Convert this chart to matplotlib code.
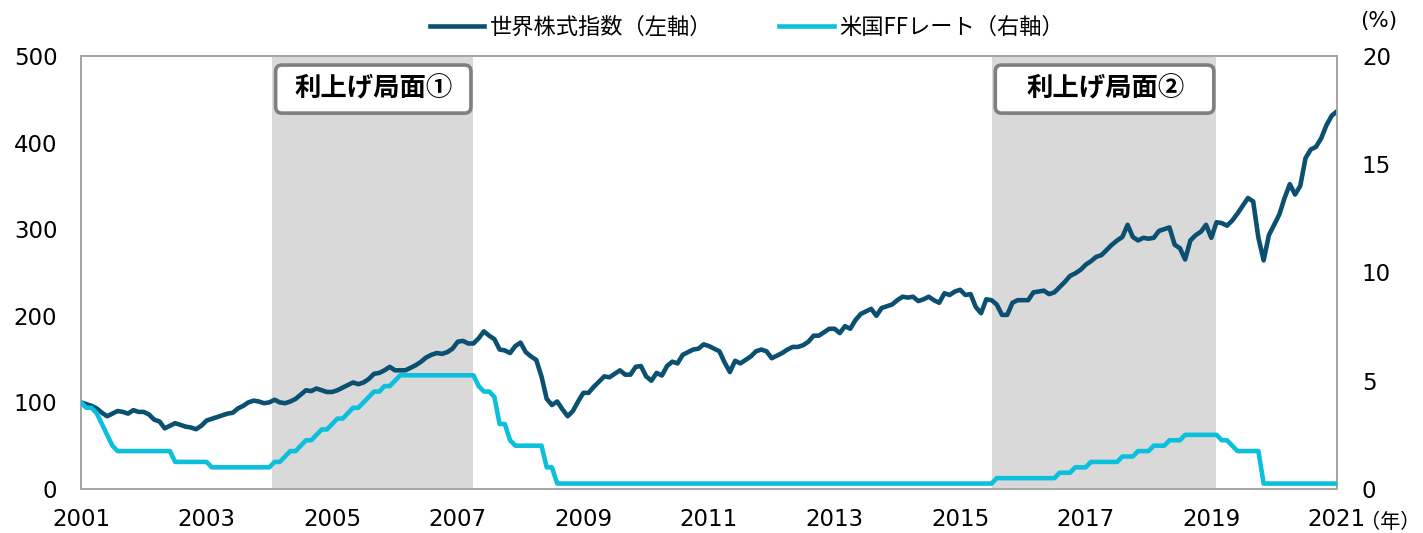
import numpy as np
import matplotlib
matplotlib.use("Agg")
import matplotlib.pyplot as plt
from matplotlib.patches import FancyBboxPatch
from matplotlib.transforms import blended_transform_factory

plt.rcParams['font.family'] = ['DejaVu Sans', 'Noto Sans CJK JP']
JP = ['Noto Sans CJK JP', 'DejaVu Sans']

# 世界株式指数（左軸）: 月次、先頭=100
stock = [
    100, 98, 96, 93, 88, 84, 87, 90, 89, 87, 91, 89,
    89, 86, 80, 78, 70, 73, 76, 74, 72, 71, 69, 73,
    79, 81, 83, 85, 87, 88, 93, 96, 100, 102, 101, 99,
    100, 103, 100, 99, 101, 104, 109, 114, 113, 116, 114, 112,
    112, 114, 117, 120, 123, 121, 123, 127, 133, 134, 137, 141,
    137, 137, 137, 140, 143, 147, 152, 155, 157, 156, 158, 162,
    170, 171, 168, 168, 174, 182, 177, 173, 161, 160, 157, 165,
    169, 158, 153, 149, 130, 104, 97, 101, 92, 84, 90, 101,
    111, 111, 118, 124, 130, 129, 133, 137, 132, 132, 141, 142,
    130, 125, 134, 131, 142, 147, 145, 155, 158, 161, 162, 167,
    165, 162, 159, 146, 135, 148, 145, 149, 153, 159, 161, 159,
    151, 154, 157, 161, 164, 164, 166, 170, 177, 177, 181, 185,
    185, 180, 188, 185, 195, 202, 205, 208, 200, 209, 211, 213,
    218, 222, 221, 222, 217, 219, 222, 218, 215, 226, 224, 228,
    230, 224, 225, 210, 203, 219, 218, 213, 201, 201, 215, 218,
    218, 218, 227, 228, 229, 225, 227, 233, 239, 246, 249, 253,
    259, 263, 268, 270, 276, 282, 287, 291, 305, 291, 287, 290,
    289, 290, 298, 300, 302, 282, 278, 265, 287, 293, 297, 305,
    290, 308, 307, 304, 310, 318, 327, 336, 332, 290, 264, 293,
    305, 317, 336, 352, 340, 350, 382, 392, 395, 405, 420, 431,
    436,
]

# 米国FFレート（右軸）: 月末の誘導目標（上限）, %
ffrate = (
    [4.0, 3.75, 3.75, 3.5, 3.0, 2.5, 2.0, 1.75]
    + [1.75] * 10 + [1.25] * 2
    + [1.25] * 5 + [1.0] * 7
    + [1.0] * 5 + [1.25, 1.25, 1.5, 1.75, 1.75, 2.0, 2.25]
    + [2.25, 2.5, 2.75, 2.75, 3.0, 3.25, 3.25, 3.5, 3.75, 3.75, 4.0, 4.25]
    + [4.5, 4.5, 4.75, 4.75, 5.0] + [5.25] * 7
    + [5.25] * 8 + [4.75, 4.5, 4.5, 4.25]
    + [3.0, 3.0, 2.25, 2.0] + [2.0] * 5 + [1.0, 1.0, 0.25]
    + [0.25] * 83 + [0.5]
    + [0.5] * 11 + [0.75]
    + [0.75, 0.75, 1.0, 1.0, 1.0] + [1.25] * 6 + [1.5]
    + [1.5, 1.5, 1.75, 1.75, 1.75, 2.0, 2.0, 2.0, 2.25, 2.25, 2.25, 2.5]
    + [2.5] * 6 + [2.25, 2.25, 2.0, 1.75, 1.75, 1.75]
    + [1.75, 1.75] + [0.25] * 10
    + [0.25] * 5
)

phases = [(2004.04, 2007.25), (2015.5, 2019.08)]
phase_labels = ["利上げ局面①", "利上げ局面②"]
years = list(range(2001, 2022, 2))

t = 2001 + np.arange(len(stock)) / 12

NAVY = "#0b4f71"
CYAN = "#0cc0dd"
GRID = "#a6a6a6"

fig = plt.figure(figsize=(14.23, 5.33), dpi=100)
ax = fig.add_axes([0.0569, 0.0826, 0.8826, 0.8124])
ax2 = ax.twinx()

for a, b in phases:
    ax.axvspan(a, b, color="#d9d9d9", lw=0, zorder=0)

l1, = ax.plot(t, stock, color=NAVY, lw=3.3, solid_joinstyle="round", zorder=3)
l2, = ax2.plot(t, ffrate, color=CYAN, lw=3.3, solid_joinstyle="round", zorder=3)

ax.set_xlim(2001, 2021)
ax.set_ylim(0, 500)
ax2.set_ylim(0, 20)
ax.set_xticks(years)
ax.set_yticks(range(0, 501, 100))
ax2.set_yticks(range(0, 21, 5))
ax.tick_params(axis="y", length=0, pad=17, labelsize=16.5)
ax.tick_params(axis="x", length=0, pad=14, labelsize=16.5)
ax2.tick_params(axis="y", length=0, pad=18, labelsize=16.5)
for a_ in (ax, ax2):
    for s in a_.spines.values():
        s.set_color(GRID)
        s.set_linewidth(1.3)

# 利上げ局面のラベル枠
tr = blended_transform_factory(ax2.transData, ax2.transAxes)
for (a, b), lab in zip(phases, phase_labels):
    box = FancyBboxPatch((a + 0.06, 0.868), (b - a) - 0.1, 0.111,
                         boxstyle="round,pad=0,rounding_size=0.1",
                         mutation_aspect=0.145, transform=tr,
                         facecolor="white", edgecolor="#7f7f7f", lw=2.6,
                         zorder=5, clip_on=False)
    ax2.add_patch(box)
    ax2.text((a + b) / 2 + 0.02, 0.924, lab, transform=tr, ha="center", va="center",
             fontsize=19, fontweight="bold", family=JP, zorder=6)

fig.legend([l1, l2], ["世界株式指数（左軸）", "米国FFレート（右軸）"],
           loc="center", bbox_to_anchor=(747 / 1423, 1 - 27 / 533), ncol=2,
           frameon=False, handlelength=2.45, handletextpad=0.25,
           columnspacing=3.0, prop={"family": JP, "size": 16})

fig.text(1379 / 1423, 1 - 21 / 533, "(%)", ha="center", va="center", fontsize=15.5)
fig.text(1390 / 1423, 1 - 523 / 533, "（年）", ha="center", va="center",
         fontsize=14.5, family=JP)

fig.savefig("out.png", dpi=100)
